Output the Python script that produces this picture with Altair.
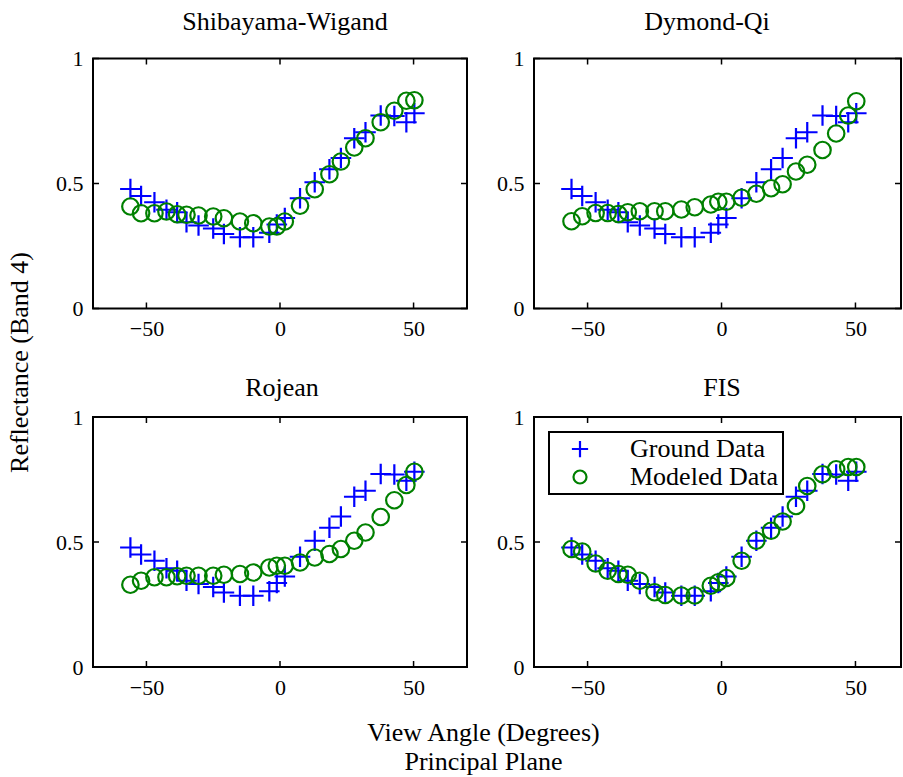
import altair as alt
import pandas as pd

# ---- data ----
angles = [-56, -52, -47, -42.5, -38.5, -35, -30.5, -25, -21, -15, -10, -4,
          -1.2, 1.8, 7.5, 13, 18.5, 22.8, 27.8, 32, 37.7, 42.8, 47.3, 50.3]
ground = [0.478, 0.45, 0.425, 0.395, 0.385, 0.345, 0.332, 0.32, 0.298, 0.285, 0.285, 0.303,
          0.336, 0.362, 0.441, 0.505, 0.557, 0.602, 0.681, 0.705, 0.772, 0.77, 0.745, 0.781]
shibayama = [0.408, 0.381, 0.381, 0.388, 0.377, 0.375, 0.372, 0.368, 0.361, 0.348, 0.341, 0.328,
             0.328, 0.348, 0.411, 0.477, 0.537, 0.588, 0.644, 0.681, 0.745, 0.791, 0.831, 0.833]
dymond = [0.349, 0.369, 0.382, 0.382, 0.378, 0.385, 0.389, 0.389, 0.389, 0.396, 0.405, 0.416,
          0.427, 0.427, 0.443, 0.459, 0.481, 0.497, 0.548, 0.575, 0.634, 0.700, 0.772, 0.829]
rojean = [0.329, 0.345, 0.359, 0.359, 0.363, 0.365, 0.365, 0.365, 0.369, 0.372, 0.378, 0.398,
          0.405, 0.405, 0.418, 0.438, 0.452, 0.472, 0.505, 0.538, 0.600, 0.667, 0.728, 0.781]
fis = [0.472, 0.462, 0.414, 0.385, 0.372, 0.369, 0.345, 0.299, 0.288, 0.286, 0.286, 0.325,
       0.339, 0.356, 0.425, 0.505, 0.545, 0.582, 0.644, 0.724, 0.771, 0.791, 0.800, 0.800]

panel_titles = ["Shibayama-Wigand", "Dymond-Qi", "Rojean", "FIS"]
series_names = ["Ground Data", "Modeled Data"]
x_ticks = [-50, 0, 50]
y_ticks = [0, 0.5, 1]
y_title = "Reflectance (Band 4)"
x_title = ["View Angle (Degrees)", "Principal Plane"]

# ---- style ----
FONT = "Liberation Serif"
CROSS = "M-1.25,0L1.25,0M0,-1.25L0,1.25"
H = 250
TICK = 6


def panel(model, title, xdom, width, tx, ty, show_legend=False, xt=None, yt=None):
    df = pd.DataFrame({
        "angle": angles + angles,
        "value": ground + model,
        "series": [series_names[0]] * len(angles) + [series_names[1]] * len(angles),
    })
    xs = alt.Scale(domain=xdom, nice=False, zero=False)
    ys = alt.Scale(domain=[0, 1], nice=False)

    xkw = dict(values=x_ticks, format="~r", ticks=False, tickSize=0, domain=False, grid=False,
               labelFont=FONT, labelFontSize=22, labelColor="black", labelPadding=10,
               labelFlush=False)
    ykw = dict(values=y_ticks, format="~r", ticks=False, tickSize=0, domain=False, grid=False,
               labelFont=FONT, labelFontSize=22, labelColor="black", labelPadding=10,
               labelFlush=False)
    if xt is not None:
        xkw.update(title=xt, titleFont=FONT, titleFontSize=26, titleFontWeight="normal",
                   titleColor="black", titleX=390, titleY=73, titleAlign="center",
                   titleBaseline="alphabetic", titleLineHeight=29, titleAngle=0)
    else:
        xkw.update(title=None)
    if yt is not None:
        ykw.update(title=yt, titleFont=FONT, titleFontSize=26, titleFontWeight="normal",
                   titleColor="black", titleX=-74, titleY=-55, titleAlign="center",
                   titleBaseline="middle", titleAngle=270)
    else:
        ykw.update(title=None)
    xaxis = alt.Axis(**xkw)
    yaxis = alt.Axis(**ykw)

    if show_legend:
        leg = alt.Legend(orient="top-left", title=None, offset=15, strokeColor="black",
                         padding=4, symbolOffset=14, labelOffset=37, rowPadding=2,
                         labelFont=FONT, labelFontSize=26, labelColor="black",
                         symbolSize=169, symbolStrokeWidth=2.2, fillColor="white")
    else:
        leg = None

    pts = alt.Chart(df).mark_point(filled=False, size=272, strokeWidth=2.2, opacity=1).encode(
        x=alt.X("angle:Q", scale=xs, axis=xaxis),
        y=alt.Y("value:Q", scale=ys, axis=yaxis),
        color=alt.Color("series:N", scale=alt.Scale(domain=series_names,
                                                     range=["#0000ff", "#008000"]), legend=leg),
        shape=alt.Shape("series:N", scale=alt.Scale(domain=series_names,
                                                     range=[CROSS, "circle"]), legend=leg),
        order=alt.Order("series:N"),
    )

    xtd = pd.DataFrame({"angle": x_ticks})
    ytd = pd.DataFrame({"value": y_ticks})
    rule = dict(color="black", strokeWidth=1.5)
    t_bottom = alt.Chart(xtd).mark_rule(**rule).encode(
        x=alt.X("angle:Q", scale=xs, axis=xaxis), y=alt.value(H), y2=alt.value(H - TICK))
    t_top = alt.Chart(xtd).mark_rule(**rule).encode(
        x=alt.X("angle:Q", scale=xs, axis=xaxis), y=alt.value(0), y2=alt.value(TICK))
    t_left = alt.Chart(ytd).mark_rule(**rule).encode(
        y=alt.Y("value:Q", scale=ys, axis=yaxis), x=alt.value(0), x2=alt.value(TICK))
    t_right = alt.Chart(ytd).mark_rule(**rule).encode(
        y=alt.Y("value:Q", scale=ys, axis=yaxis), x=alt.value(width), x2=alt.value(width - TICK))

    ttl = alt.Chart(pd.DataFrame({"title": [title]})).mark_text(
        font=FONT, fontSize=26, baseline="alphabetic", align="center", color="black"
    ).encode(text="title:N", x=alt.value(tx), y=alt.value(ty))

    return alt.layer(pts, t_bottom, t_top, t_left, t_right, ttl).properties(width=width, height=H)


tl = panel(shibayama, panel_titles[0], [-70, 70], 374, 192, -29)
tr = panel(dymond, panel_titles[1], [-70, 67], 367, 173, -29)
bl = panel(rojean, panel_titles[2], [-70, 70], 374, 189, -21.5, xt=x_title, yt=y_title)
br = panel(fis, panel_titles[3], [-70, 67], 367, 188, -21.5, show_legend=True)

chart = alt.concat(
    tl, tr, bl, br, columns=2,
    spacing={"row": 108.5, "column": 67}, bounds="flush",
).resolve_legend(
    color="independent", shape="independent"
).properties(
    padding={"left": 4, "top": 7.5, "right": 0, "bottom": 0},
    background="white",
).configure(
    font=FONT
).configure_view(
    stroke="black", strokeWidth=2
).configure_legend(
    strokeWidth=2
)

chart.save("out.html", embed_options={"renderer": "svg", "actions": False})
